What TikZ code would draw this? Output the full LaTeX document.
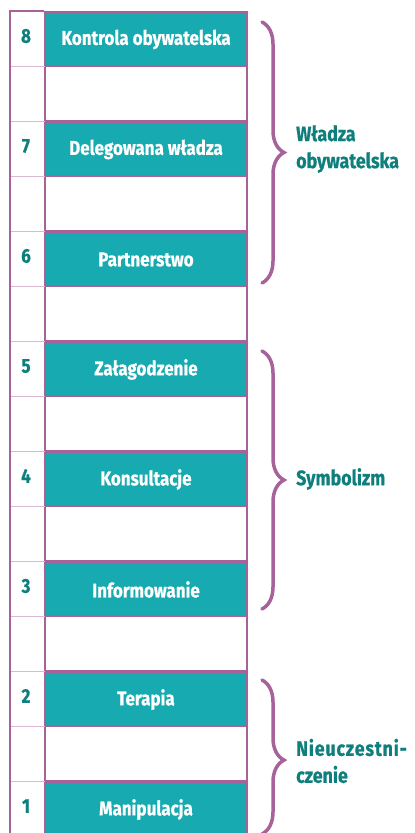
\documentclass[tikz,border=0pt]{standalone}
\usepackage{fontspec}
\setmainfont{Fira Sans}[FakeStretch=0.85,BoldFont={* Bold},BoldFeatures={FakeBold=0.6}]
\usetikzlibrary{decorations.pathreplacing}
\definecolor{teal1}{HTML}{17AAB1}
\definecolor{purp}{HTML}{A8629A}
\definecolor{purpl}{HTML}{D9B8D2}
\definecolor{dteal}{HTML}{0E7F7D}
\tikzset{
  x=1pt,y=1pt,
  rung/.style={draw=purp,line width=2pt,fill=teal1,minimum width=202pt,minimum height=55pt,inner sep=0pt,
     text=white,font=\fontsize{20}{24}\selectfont\bfseries},
  gap/.style={draw=purp,line width=2pt,fill=white,minimum width=202pt,minimum height=55pt,inner sep=0pt},
  num/.style={text=dteal,font=\fontsize{20}{24}\selectfont\bfseries,inner sep=0pt},
  grp/.style={text=dteal,font=\fontsize{21}{27}\selectfont\bfseries,anchor=west,align=left,inner sep=0pt},
  brc/.style={draw=purp,line width=3.5pt,line cap=round,decorate,decoration={brace,amplitude=22pt}},
  faint/.style={draw=purpl,line width=1pt}
}
\begin{document}
\begin{tikzpicture}
\useasboundingbox (0,0) rectangle (415,-833);
\clip (0,0) rectangle (415,-833);
% level k: teal box top at y = 11 + (8-k)*110
\foreach \k/\t in {8/Kontrola obywatelska,7/Delegowana władza,6/Partnerstwo,5/Załagodzenie,4/Konsultacje,3/Informowanie,2/Terapia,1/Manipulacja}{
  \node[rung] (b\k) at (146,{-(11+(8-\k)*110+28.5)}) {\t};
  \node[num] (n\k) at (26,{-(11+(8-\k)*110+25)}) {\k};
}
\foreach \k in {7,...,1}{
  \node[gap] (w\k) at (146,{-(11+(7-\k)*110+55+27.5)}) {};
}
% faint rungs in left column
\foreach \i in {1,...,15}{
  \draw[faint] (10,{-(11+\i*55)}) -- (45,{-(11+\i*55)});
}
% left frame
\coordinate (tl) at (10,-11);
\coordinate (bl) at (10,-840);
\draw[purp,line width=2pt] (bl) -- (tl) -- (b8.north west);
% braces
\coordinate (g1t) at (262,-22);
\coordinate (g1b) at (262,-283);
\coordinate (g2t) at (262,-351);
\coordinate (g2b) at (262,-609);
\coordinate (g3t) at (262,-680);
\coordinate (g3b) at (262,-834);
\draw[brc] (g1t) -- (g1b);
\draw[brc] (g2t) -- (g2b);
\draw[brc,decoration={brace,amplitude=22pt,aspect=0.52}] (g3t) -- (g3b);
\node[grp] (l1) at (296,-149) {Władza\\obywatelska};
\node[grp] (l2) at (296,-479) {Symbolizm};
\node[grp] (l3) at (296,-761) {{\addfontfeature{LetterSpace=4}Nieuczestni-}\\czenie};
\end{tikzpicture}
\end{document}
